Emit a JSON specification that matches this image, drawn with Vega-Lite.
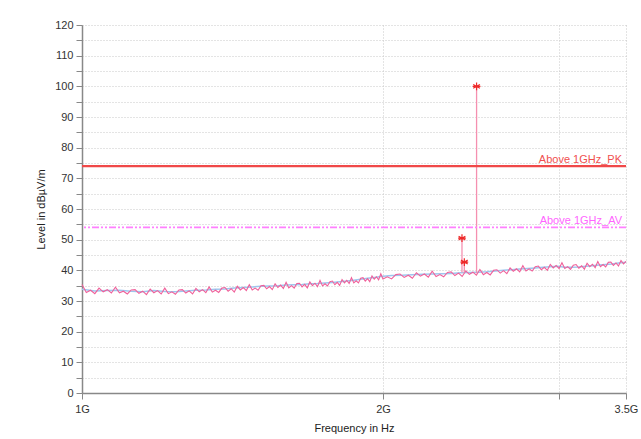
{
  "$schema": "https://vega.github.io/schema/vega-lite/v6.json",
  "width": 544,
  "height": 368,
  "autosize": {"type": "none"},
  "padding": {"left": 82, "top": 25, "right": 15, "bottom": 46},
  "background": "white",
  "config": {
    "view": {"stroke": null},
    "font": "Liberation Sans",
    "axis": {"labelFont": "Liberation Sans", "titleFont": "Liberation Sans", "labelFontSize": 11, "titleFontSize": 11, "titleFontWeight": "normal", "labelColor": "#333", "titleColor": "#222", "domainColor": "#888", "domainWidth": 1.5, "tickColor": "#888", "gridColor": "#c8c8c8", "gridDash": [1, 2]},
    "axisY": {"values": [0,5,10,15,20,25,30,35,40,45,50,55,60,65,70,75,80,85,90,95,100,105,110,115,120], "labelOverlap": false, "labelExpr": "datum.value % 10 == 0 ? datum.label : ''", "title": "Level in dBµV/m", "tickSize": 6, "labelPadding": 3, "titlePadding": 8, "grid": true}
  },
  "datasets": {
    "pk": [
      {"f":1.00,"v":35.4},{"f":1.01,"v":32.8},{"f":1.02,"v":33.5},{"f":1.03,"v":32.4},{"f":1.04,"v":34.2},{"f":1.05,"v":33.0},{"f":1.06,"v":33.7},{"f":1.07,"v":32.6},{"f":1.08,"v":34.5},{"f":1.09,"v":32.7},
      {"f":1.10,"v":33.2},{"f":1.11,"v":32.3},{"f":1.12,"v":33.6},{"f":1.13,"v":33.7},{"f":1.14,"v":32.5},{"f":1.15,"v":33.2},{"f":1.16,"v":32.1},{"f":1.17,"v":33.9},{"f":1.18,"v":32.7},{"f":1.19,"v":33.4},
      {"f":1.20,"v":32.3},{"f":1.21,"v":34.2},{"f":1.22,"v":32.4},{"f":1.23,"v":33.0},{"f":1.24,"v":32.2},{"f":1.25,"v":33.6},{"f":1.26,"v":33.7},{"f":1.27,"v":32.6},{"f":1.28,"v":33.3},{"f":1.29,"v":32.3},
      {"f":1.30,"v":34.1},{"f":1.31,"v":33.0},{"f":1.32,"v":33.7},{"f":1.33,"v":32.7},{"f":1.34,"v":34.6},{"f":1.35,"v":32.9},{"f":1.36,"v":33.5},{"f":1.37,"v":32.8},{"f":1.38,"v":34.2},{"f":1.39,"v":34.4},
      {"f":1.40,"v":33.2},{"f":1.41,"v":34.0},{"f":1.42,"v":32.9},{"f":1.43,"v":34.8},{"f":1.44,"v":33.6},{"f":1.45,"v":34.4},{"f":1.46,"v":33.4},{"f":1.47,"v":35.3},{"f":1.48,"v":33.6},{"f":1.49,"v":34.2},
      {"f":1.50,"v":33.5},{"f":1.51,"v":35.0},{"f":1.52,"v":35.1},{"f":1.53,"v":34.0},{"f":1.54,"v":34.7},{"f":1.55,"v":33.7},{"f":1.56,"v":35.6},{"f":1.57,"v":34.4},{"f":1.58,"v":35.2},{"f":1.59,"v":34.1},
      {"f":1.60,"v":36.1},{"f":1.61,"v":34.3},{"f":1.62,"v":35.0},{"f":1.63,"v":34.2},{"f":1.64,"v":35.7},{"f":1.65,"v":35.8},{"f":1.66,"v":34.6},{"f":1.67,"v":35.4},{"f":1.68,"v":34.3},{"f":1.69,"v":36.2},
      {"f":1.70,"v":35.0},{"f":1.71,"v":35.8},{"f":1.72,"v":34.7},{"f":1.73,"v":36.7},{"f":1.74,"v":34.9},{"f":1.75,"v":35.6},{"f":1.76,"v":34.9},{"f":1.77,"v":36.3},{"f":1.78,"v":36.5},{"f":1.79,"v":35.3},
      {"f":1.80,"v":36.1},{"f":1.81,"v":35.1},{"f":1.82,"v":37.0},{"f":1.83,"v":35.9},{"f":1.84,"v":36.7},{"f":1.85,"v":35.7},{"f":1.86,"v":37.6},{"f":1.87,"v":35.9},{"f":1.88,"v":36.6},{"f":1.89,"v":35.9},
      {"f":1.90,"v":37.4},{"f":1.91,"v":37.6},{"f":1.92,"v":36.5},{"f":1.93,"v":37.3},{"f":1.94,"v":36.3},{"f":1.95,"v":38.2},{"f":1.96,"v":37.1},{"f":1.97,"v":37.9},{"f":1.98,"v":36.9},{"f":1.99,"v":38.9},
      {"f":2.00,"v":37.2},{"f":2.02,"v":37.9},{"f":2.04,"v":37.2},{"f":2.06,"v":38.6},{"f":2.08,"v":38.8},{"f":2.10,"v":37.7},{"f":2.12,"v":38.4},{"f":2.14,"v":37.4},{"f":2.16,"v":39.2},{"f":2.18,"v":38.1},
      {"f":2.20,"v":38.8},{"f":2.22,"v":37.8},{"f":2.24,"v":39.7},{"f":2.26,"v":38.0},{"f":2.28,"v":38.6},{"f":2.30,"v":37.9},{"f":2.32,"v":39.3},{"f":2.34,"v":39.5},{"f":2.36,"v":38.3},{"f":2.38,"v":39.1},
      {"f":2.40,"v":38.0},{"f":2.42,"v":39.8},{"f":2.44,"v":38.7},{"f":2.46,"v":39.4},{"f":2.48,"v":38.4},{"f":2.50,"v":40.3},{"f":2.52,"v":38.6},{"f":2.54,"v":39.3},{"f":2.56,"v":38.5},{"f":2.58,"v":40.0},
      {"f":2.60,"v":40.2},{"f":2.62,"v":39.1},{"f":2.64,"v":39.9},{"f":2.66,"v":38.9},{"f":2.68,"v":40.8},{"f":2.70,"v":39.7},{"f":2.72,"v":40.5},{"f":2.74,"v":39.5},{"f":2.76,"v":41.5},{"f":2.78,"v":39.8},
      {"f":2.80,"v":40.5},{"f":2.82,"v":39.8},{"f":2.84,"v":41.2},{"f":2.86,"v":41.4},{"f":2.88,"v":40.2},{"f":2.90,"v":41.0},{"f":2.92,"v":40.0},{"f":2.94,"v":41.9},{"f":2.96,"v":40.8},{"f":2.98,"v":41.6},
      {"f":3.00,"v":40.6},{"f":3.02,"v":42.5},{"f":3.04,"v":40.6},{"f":3.06,"v":41.2},{"f":3.08,"v":40.3},{"f":3.10,"v":41.7},{"f":3.12,"v":41.9},{"f":3.14,"v":40.7},{"f":3.16,"v":41.5},{"f":3.18,"v":40.4},
      {"f":3.20,"v":42.3},{"f":3.22,"v":41.2},{"f":3.24,"v":42.0},{"f":3.26,"v":40.9},{"f":3.28,"v":42.9},{"f":3.30,"v":41.2},{"f":3.32,"v":41.9},{"f":3.34,"v":41.1},{"f":3.36,"v":42.6},{"f":3.38,"v":42.7},
      {"f":3.40,"v":41.6},{"f":3.42,"v":42.4},{"f":3.44,"v":41.4},{"f":3.46,"v":43.2},{"f":3.48,"v":42.1},{"f":3.50,"v":42.9}
    ],
    "av": [
      {"f":1.00,"v":33.8},{"f":1.03,"v":33.3},{"f":1.06,"v":33.4},{"f":1.09,"v":33.5},{"f":1.12,"v":33.2},{"f":1.15,"v":33.0},{"f":1.18,"v":33.4},{"f":1.21,"v":33.1},{"f":1.24,"v":33.0},{"f":1.27,"v":33.3},
      {"f":1.30,"v":33.5},{"f":1.33,"v":33.6},{"f":1.36,"v":33.8},{"f":1.39,"v":33.9},{"f":1.42,"v":34.2},{"f":1.45,"v":34.4},{"f":1.48,"v":34.6},{"f":1.51,"v":34.8},{"f":1.54,"v":34.9},{"f":1.57,"v":35.0},
      {"f":1.60,"v":35.2},{"f":1.63,"v":35.3},{"f":1.66,"v":35.4},{"f":1.69,"v":35.6},{"f":1.72,"v":35.7},{"f":1.75,"v":35.9},{"f":1.78,"v":36.0},{"f":1.81,"v":36.3},{"f":1.84,"v":36.5},{"f":1.87,"v":36.8},
      {"f":1.90,"v":37.1},{"f":1.93,"v":37.4},{"f":1.96,"v":37.7},{"f":1.99,"v":38.0},{"f":2.04,"v":38.3},{"f":2.09,"v":38.4},{"f":2.14,"v":38.6},{"f":2.19,"v":38.7},{"f":2.24,"v":38.8},{"f":2.29,"v":38.9},
      {"f":2.34,"v":39.0},{"f":2.39,"v":39.2},{"f":2.44,"v":39.3},{"f":2.49,"v":39.4},{"f":2.54,"v":39.5},{"f":2.59,"v":39.8},{"f":2.64,"v":40.0},{"f":2.69,"v":40.2},{"f":2.74,"v":40.4},{"f":2.79,"v":40.6},
      {"f":2.84,"v":40.8},{"f":2.89,"v":41.0},{"f":2.94,"v":41.2},{"f":2.99,"v":41.3},{"f":3.04,"v":41.0},{"f":3.09,"v":41.0},{"f":3.14,"v":41.1},{"f":3.19,"v":41.3},{"f":3.24,"v":41.5},{"f":3.29,"v":41.7},
      {"f":3.34,"v":41.9},{"f":3.39,"v":42.1},{"f":3.44,"v":42.4},{"f":3.50,"v":42.6}
    ],
    "peaks": [
      {"f":2.399,"v":50.5,"base":39.3},
      {"f":2.412,"v":42.7,"base":39.3},
      {"f":2.481,"v":100.0,"base":39.0}
    ],
    "pkLimit": [{"name":"Above 1GHz_PK","v":74}],
    "avLimit": [{"name":"Above 1GHz_AV","v":54}]
  },
  "layer": [
    {
      "data": {"name": "av"},
      "mark": {"type": "line", "color": "#9ec6ee", "strokeWidth": 1.5},
      "encoding": {
        "x": {"field": "f", "type": "quantitative", "scale": {"type": "log", "domain": [1, 3.5], "nice": false},
          "axis": {"title": "Frequency in Hz", "values": [1, 2, 3, 3.5], "labelExpr": "datum.value == 3 ? '' : datum.value + 'G'", "grid": true, "tickSize": 6, "labelPadding": 4, "titlePadding": 8, "labelFlush": false, "labelOverlap": false}},
        "y": {"field": "v", "type": "quantitative", "scale": {"domain": [0, 120], "nice": false, "zero": false},
          "axis": {"title": "Level in dBµV/m", "values": [0,5,10,15,20,25,30,35,40,45,50,55,60,65,70,75,80,85,90,95,100,105,110,115,120]}}
      }
    },
    {
      "data": {"name": "pk"},
      "mark": {"type": "line", "color": "#f0609a", "strokeWidth": 1.1},
      "encoding": {
        "x": {"field": "f", "type": "quantitative"},
        "y": {"field": "v", "type": "quantitative", "axis": {"title": "Level in dBµV/m", "values": [0,5,10,15,20,25,30,35,40,45,50,55,60,65,70,75,80,85,90,95,100,105,110,115,120]}}
      }
    },
    {
      "data": {"name": "peaks"},
      "mark": {"type": "rule", "color": "#f590b0", "strokeWidth": 1.3},
      "encoding": {
        "x": {"field": "f", "type": "quantitative"},
        "y": {"field": "base", "type": "quantitative", "axis": {"title": "Level in dBµV/m", "values": [0,5,10,15,20,25,30,35,40,45,50,55,60,65,70,75,80,85,90,95,100,105,110,115,120]}},
        "y2": {"field": "v"}
      }
    },
    {
      "data": {"name": "peaks"},
      "mark": {"type": "point", "shape": "M0,-1L0,1M-0.87,-0.5L0.87,0.5M-0.87,0.5L0.87,-0.5M-1,0L1,0", "filled": false, "color": "#ee2a2a", "strokeWidth": 1.2, "size": 60, "opacity": 1},
      "encoding": {
        "x": {"field": "f", "type": "quantitative"},
        "y": {"field": "v", "type": "quantitative", "axis": {"title": "Level in dBµV/m", "values": [0,5,10,15,20,25,30,35,40,45,50,55,60,65,70,75,80,85,90,95,100,105,110,115,120]}}
      }
    },
    {
      "data": {"name": "pkLimit"},
      "mark": {"type": "rule", "color": "#f04848", "strokeWidth": 2.2},
      "encoding": {"y": {"field": "v", "type": "quantitative", "axis": {"title": "Level in dBµV/m", "values": [0,5,10,15,20,25,30,35,40,45,50,55,60,65,70,75,80,85,90,95,100,105,110,115,120]}}}
    },
    {
      "data": {"name": "avLimit"},
      "mark": {"type": "rule", "color": "#ff80ff", "strokeWidth": 1.6, "strokeDash": [7, 2, 2, 2, 2, 2]},
      "encoding": {"y": {"field": "v", "type": "quantitative", "axis": {"title": "Level in dBµV/m", "values": [0,5,10,15,20,25,30,35,40,45,50,55,60,65,70,75,80,85,90,95,100,105,110,115,120]}}}
    },
    {
      "data": {"name": "pkLimit"},
      "mark": {"type": "text", "align": "right", "baseline": "bottom", "dx": -4, "dy": -1, "fontSize": 11, "color": "#f05050"},
      "encoding": {
        "x": {"datum": 3.5, "type": "quantitative"},
        "y": {"field": "v", "type": "quantitative", "axis": {"title": "Level in dBµV/m", "values": [0,5,10,15,20,25,30,35,40,45,50,55,60,65,70,75,80,85,90,95,100,105,110,115,120]}},
        "text": {"field": "name"}
      }
    },
    {
      "data": {"name": "avLimit"},
      "mark": {"type": "text", "align": "right", "baseline": "bottom", "dx": -4, "dy": -1, "fontSize": 11, "color": "#ff66ff"},
      "encoding": {
        "x": {"datum": 3.5, "type": "quantitative"},
        "y": {"field": "v", "type": "quantitative", "axis": {"title": "Level in dBµV/m", "values": [0,5,10,15,20,25,30,35,40,45,50,55,60,65,70,75,80,85,90,95,100,105,110,115,120]}},
        "text": {"field": "name"}
      }
    }
  ]
}
